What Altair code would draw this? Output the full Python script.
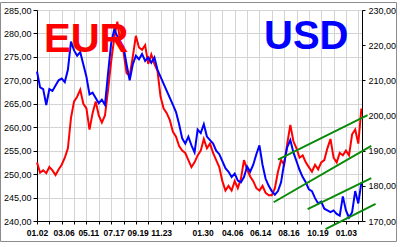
import altair as alt
import pandas as pd

# ---- data (one value every 5 trading days) ----
STEP = 5
eur = [252.5, 250.3, 250.8, 250.2, 251.5, 250.8, 249.8, 251.0, 252.0, 253.5,
       255.5, 262.0, 265.5, 266.5, 268.0, 265.0, 264.0, 259.5, 263.0, 265.5,
       262.5, 261.0, 262.5, 268.0, 274.0, 279.0, 282.5, 278.0, 276.0, 271.5,
       271.0, 275.0, 279.5, 277.0, 276.5, 277.5, 273.5, 275.5, 273.5, 272.0,
       266.5, 264.0, 263.0, 261.5, 259.0, 258.0, 256.0, 255.0, 254.5, 253.0,
       251.5, 252.5, 254.0, 255.0, 257.5, 255.5, 256.5, 254.5, 253.0, 251.5,
       248.5, 246.5, 247.5, 246.5, 248.5, 247.0, 249.0, 253.0, 251.0, 249.5,
       248.5, 247.0, 246.5, 247.5, 246.0, 245.5, 245.5, 247.0, 250.5, 253.0,
       252.0, 256.5, 260.5, 257.0, 255.5, 253.5, 254.0, 252.5, 251.5, 250.5,
       252.0, 251.0, 252.5, 253.0, 255.5, 257.5, 253.5, 252.5, 254.5, 254.0,
       255.0, 254.0, 258.5, 259.5, 256.5, 264.0]
usd = [212.5, 208.0, 207.5, 203.0, 207.5, 207.0, 208.5, 210.0, 210.5, 209.5,
       213.0, 221.0, 218.5, 217.0, 218.0, 214.5, 211.0, 206.0, 206.5, 205.0,
       203.5, 204.5, 203.0, 212.0, 220.5, 224.5, 222.5, 221.0, 219.5, 214.5,
       210.0, 214.5, 217.0, 216.0, 217.5, 215.5, 216.5, 215.0, 216.5, 213.0,
       211.0, 209.0, 207.0, 205.0, 203.0, 201.0, 197.5, 193.5, 192.0, 194.0,
       191.5, 189.5, 196.0, 195.0, 197.5, 194.0, 193.0, 192.0, 190.0, 189.0,
       187.0, 185.0, 184.0, 182.5, 183.5, 181.5, 181.0, 182.5, 185.5, 184.0,
       186.0, 189.0, 191.5, 186.0, 182.0, 180.0, 178.5, 177.5, 178.5, 181.0,
       186.5, 191.0, 193.0, 189.5, 187.0, 184.5, 182.5, 181.0, 179.0, 178.5,
       176.5, 175.0, 175.5, 173.5, 173.0, 172.5, 173.0, 172.0, 171.5, 177.0,
       173.0, 171.0, 172.5, 178.5, 175.0, 181.0]
days = [i * STEP for i in range(len(eur))]

label_days = [0, 43, 83, 124, 163, 201, 268, 316, 361, 407, 454, 500]
label_text = ["01.02", "03.06", "05.11", "07.17", "09.19", "11.23",
              "01.30", "04.06", "06.14", "08.16", "10.19", "01.03"]
grid_days = list(range(0, 521, 20))

# trend channels (start/end day, value)
eur_tr_line = ["a", "a", "b", "b"]
eur_tr_day = [390, 535, 383, 541]
eur_tr_val = [253.1, 262.6, 244.0, 256.0]
usd_tr_line = ["c", "c", "d", "d"]
usd_tr_day = [438, 541, 467, 548]
usd_tr_val = [173.4, 182.2, 167.7, 174.9]

EUR_DOMAIN = [240, 285]
USD_DOMAIN = [170, 230]
X_DOMAIN = [0, 526]

df_eur = pd.DataFrame({"day": days, "value": eur})
df_usd = pd.DataFrame({"day": days, "value": usd})
df_eur_tr = pd.DataFrame({"line": eur_tr_line, "day": eur_tr_day, "value": eur_tr_val})
df_usd_tr = pd.DataFrame({"line": usd_tr_line, "day": usd_tr_day, "value": usd_tr_val})

FONT = "Liberation Sans"
GRID = "#d4d4d4"
xscale = alt.Scale(domain=X_DOMAIN, nice=False, zero=False)
eur_scale = alt.Scale(domain=EUR_DOMAIN, nice=False, zero=False)
usd_scale = alt.Scale(domain=USD_DOMAIN, nice=False, zero=False)
yfmt = "replace(format(datum.value, '.2f'), '.', ',')"
xlab_expr = "[" + ",".join("'%s'" % t for t in label_text) + "][indexof([" + \
    ",".join(str(d) for d in label_days) + "], datum.value)]"

# grid + ticks on x, EUR axis on the left
red = alt.Chart(df_eur).mark_line(color="#ff0000", strokeWidth=2).encode(
    x=alt.X("day:Q", scale=xscale, axis=alt.Axis(
        orient="bottom", values=grid_days, labels=False, grid=True,
        gridColor=GRID, ticks=True, tickSize=3, tickColor="#000",
        domainColor="#000", title=None)),
    y=alt.Y("value:Q", scale=eur_scale,
            axis=alt.Axis(orient="left", values=list(range(240, 286, 5)),
                          labelExpr=yfmt, grid=True, gridColor=GRID,
                          tickSize=4, tickColor="#000", domainColor="#000",
                          labelFont=FONT, labelFontSize=9, labelColor="#000",
                          labelPadding=2, labelFlush=False, title=None)),
)
green_eur = alt.Chart(df_eur_tr).mark_line(color="#0a8a0a", strokeWidth=2).encode(
    x=alt.X("day:Q", scale=xscale, axis=None),
    y=alt.Y("value:Q", scale=eur_scale, axis=None),
    detail="line:N",
)
# date labels on x, USD axis on the right
blue = alt.Chart(df_usd).mark_line(color="#0000ff", strokeWidth=2).encode(
    x=alt.X("day:Q", scale=xscale, axis=alt.Axis(
        orient="bottom", values=label_days, labelExpr=xlab_expr, grid=False,
        ticks=False, domain=False, labelFont=FONT, labelFontSize=8.5,
        labelFontWeight="bold", labelColor="#000", labelPadding=7,
        labelOverlap=False, labelFlush=False, title=None)),
    y=alt.Y("value:Q", scale=usd_scale,
            axis=alt.Axis(orient="right", values=list(range(170, 231, 10)),
                          labelExpr=yfmt, grid=False, tickSize=3,
                          tickColor="#000", domainColor="#000",
                          labelFont=FONT, labelFontSize=9, labelColor="#000",
                          labelPadding=3, labelFlush=False, title=None)),
)
green_usd = alt.Chart(df_usd_tr).mark_line(color="#0a8a0a", strokeWidth=2).encode(
    x=alt.X("day:Q", scale=xscale, axis=None),
    y=alt.Y("value:Q", scale=usd_scale, axis=None),
    detail="line:N",
)

anno = pd.DataFrame({"k": [0]})
eur_txt = alt.Chart(anno).mark_text(
    text="EUR", font=FONT, fontSize=40, fontWeight="bold", color="#ff0000",
    align="left", baseline="alphabetic").encode(x=alt.value(7), y=alt.value(42))
usd_txt = alt.Chart(anno).mark_text(
    text="USD", font=FONT, fontSize=40, fontWeight="bold", color="#0000ff",
    align="left", baseline="alphabetic").encode(x=alt.value(227), y=alt.value(39))
frame = alt.Chart(anno).mark_rect(filled=False, stroke="#8c8c8c", strokeWidth=1).encode(
    x=alt.value(-36.5), x2=alt.value(359.5), y=alt.value(-7.5), y2=alt.value(231.5))

chart = alt.layer(red, blue, green_eur, green_usd, eur_txt, usd_txt, frame).resolve_scale(
    y="independent").resolve_axis(x="independent", y="independent").properties(
    width=325, height=211, autosize="none",
    padding={"left": 37, "top": 10, "right": 38, "bottom": 26},
    background="white",
).configure_view(stroke=None)

chart.save("out.html", embed_options={"renderer": "svg", "actions": False})
